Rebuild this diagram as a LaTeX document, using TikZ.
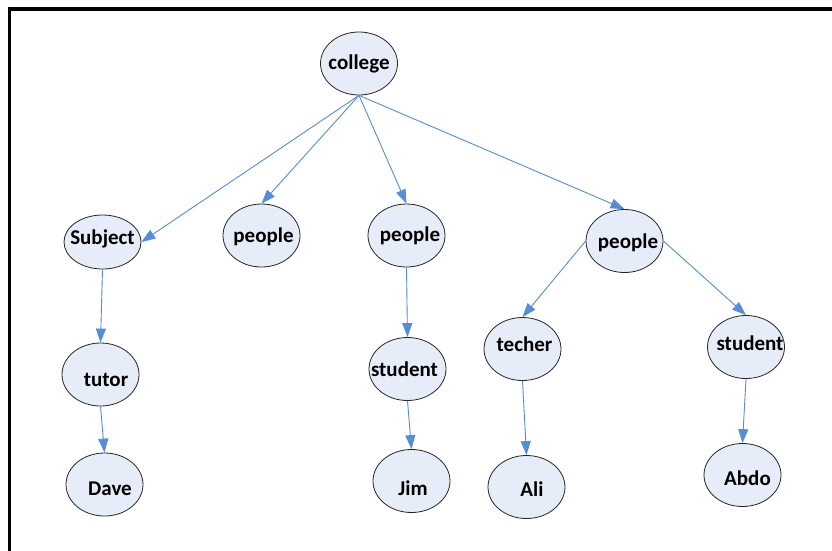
\documentclass[tikz,border=0pt]{standalone}
\usepackage{fontspec}
\setmainfont{Carlito}
\usepackage{tikz}
\usetikzlibrary{shapes,arrows,arrows.meta}

\definecolor{linkblue}{RGB}{86,141,213}
\definecolor{nodefill}{RGB}{230,237,248}

\begin{document}
\begin{tikzpicture}[
					x = 1pt, y = -1pt,
					entity/.style = {ellipse, draw = black!85, line width = 0.8pt, fill = nodefill,
						minimum width = 77pt, minimum height = 63pt, inner sep = 0pt},
					every label/.style = {font = \fontsize{21}{25}\selectfont\bfseries, inner sep = 0pt},
					link/.style = {draw = linkblue, line width = 0.9pt, -{Triangle[length=14pt,width=10pt]}}
					]

					\path[fill=white,use as bounding box] (0,0) rectangle (832,550);
					\draw[line width=3.5pt] (9.5,560) -- (9.5,9) -- (840,9);

					% top
					\node[entity, label={center:college}] (college) at (359,63.5) {};

					% second row
					\node[entity, minimum height = 54pt, label={[yshift=3pt]center:Subject}] (subject) at (102.5,242) {};
					\node[entity, label={[xshift=2pt,yshift=-1pt]center:people}] (peopleA) at (261.5,235.5) {};
					\node[entity, label={[xshift=3.5pt]center:people}] (peopleB) at (406.5,235.5) {};
					\node[entity, label={[xshift=3.5pt,yshift=-2pt]center:people}] (peopleC) at (624.5,241) {};

					% third row
					\node[entity, label={[xshift=5.5pt,yshift=-5pt]center:tutor}] (tutor) at (100.5,374.5) {};
					\node[entity, label={[xshift=-3pt]center:student}] (studentA) at (407.5,369) {};
					\node[entity, label={[xshift=2pt,yshift=5pt]center:techer}] (techer) at (522.5,349) {};
					\node[entity, label={[xshift=4pt,yshift=4pt]center:student}] (studentB) at (746,347) {};

					% leaves
					\node[entity, label={[xshift=5.5pt,yshift=-4pt]center:Dave}] (dave) at (104.5,484.5) {};
					\node[entity, label={[xshift=1.5pt,yshift=-7pt]center:Jim}] (jim) at (411.5,481) {};
					\node[entity, label={[xshift=5.5pt,yshift=-2.5pt]center:Ali}] (ali) at (526.5,487) {};
					\node[entity, label={[xshift=5pt,yshift=-3pt]center:Abdo}] (abdo) at (742.5,475) {};

					\draw[link] (college.south) -- (subject.east);
					\draw[link] (college.south) -- (peopleA.north);
					\draw[link] (college.south) -- (peopleB.north);
					\draw[link] (college.south) -- (peopleC.north);

					\draw[link] (subject.south) -- (tutor.north);
					\draw[link] (tutor.south) -- (dave.north);
					\draw[link] (peopleB.south) -- (studentA.north);
					\draw[link] (studentA.south) -- (jim.north);
					\draw[link] (peopleC.west) -- (techer.north);
					\draw[link] (peopleC.east) -- (studentB.north);
					\draw[link] (techer.south) -- (ali.north);
					\draw[link] (studentB.south) -- (abdo.north);

				\end{tikzpicture}
\end{document}
